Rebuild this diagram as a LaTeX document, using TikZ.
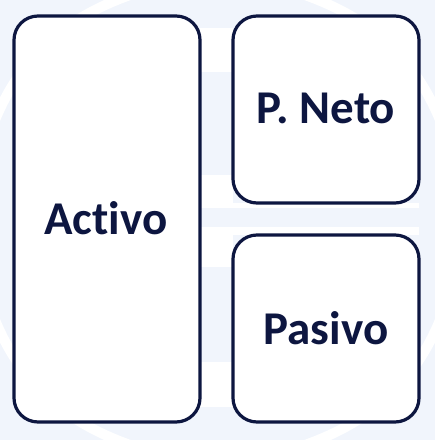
\documentclass[tikz,border=0pt]{standalone}
\usepackage{fontspec}
\setmainfont{Carlito}[Ligatures=NoCommon]
\definecolor{navy}{HTML}{0D1640}
\definecolor{wm}{HTML}{F1F5FC}
\begin{document}
\begin{tikzpicture}[x=1pt,y=-1pt,
  card/.style={draw=navy,line width=3.2pt,rounded corners=24pt,fill=white},
  lbl/.style={text=navy,font=\fontsize{47}{50}\selectfont\bfseries,inner sep=0pt}]
\useasboundingbox (0,0) rectangle (435,440);
\fill[wm] (0,0) rectangle (435,440);
\fill[white] (200,28) rectangle (233,72);
\fill[white] (200,175) rectangle (233,208);
\fill[white] (200,227) rectangle (233,267);
\fill[white] (200,362) rectangle (233,407);
\fill[white] (233,203) rectangle (419,208);
\fill[white] (233,227) rectangle (419,235);
\draw[white,line width=10pt] (-5,120) .. controls (20,60) and (60,20) .. (130,-5);
\draw[white,line width=10pt] (440,120) .. controls (415,60) and (375,20) .. (305,-5);
\draw[white,line width=10pt] (-5,320) .. controls (20,380) and (60,420) .. (130,445);
\draw[white,line width=10pt] (440,320) .. controls (415,380) and (375,420) .. (305,445);
\draw[card] (14,16) rectangle (200,422);
\draw[card] (233,16) rectangle (419,203);
\draw[card] (233,235) rectangle (419,422);
\node[lbl] (activo) at (106,218) {Activo};
\node[lbl] (neto) at (326,108) {P. Neto};
\node[lbl] (pasivo) at (326,328) {Pasivo};
\end{tikzpicture}
\end{document}
